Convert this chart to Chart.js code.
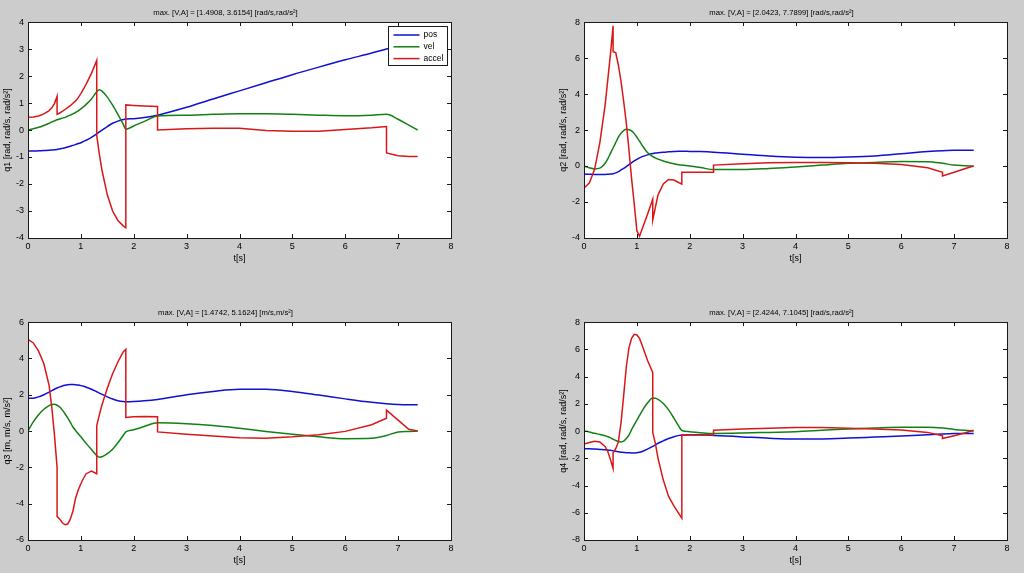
<!DOCTYPE html>
<html>
<head>
<meta charset="utf-8">
<script src="https://cdn.jsdelivr.net/npm/chart.js@4.4.0/dist/chart.umd.min.js"></script>
<style>
  html, body { margin: 0; padding: 0; background: #cccccc; }
  body { width: 1024px; height: 573px; position: relative; overflow: hidden; }
  canvas { position: absolute; }
</style>
</head>
<body>
<canvas id="c1" width="512" height="286" style="left:0;top:0"></canvas>
<canvas id="c2" width="512" height="286" style="left:512px;top:0"></canvas>
<canvas id="c3" width="512" height="287" style="left:0;top:286px"></canvas>
<canvas id="c4" width="512" height="287" style="left:512px;top:286px"></canvas>
<script>
// ======= Data =======
// shared time grid (repeated instants = jumps in acceleration)
const t = [0, 0.1, 0.2, 0.3, 0.4, 0.45, 0.5, 0.55,
  0.55, 0.6, 0.65, 0.7, 0.75, 0.8, 0.85, 0.9, 0.95, 1.0, 1.05, 1.1, 1.2, 1.3,
  1.3, 1.35, 1.4, 1.5, 1.6, 1.7, 1.8, 1.85,
  1.85, 2.0, 2.2, 2.45,
  2.45, 3.0, 3.5, 4.0, 4.5, 5.0, 5.5, 6.0, 6.5, 6.78,
  6.78, 7.0, 7.2, 7.37];

const seriesNames = ['pos', 'vel', 'accel'];
const xTicks = [0, 8, 1];

const q1Pos = [-0.78, -0.78, -0.77, -0.76, -0.75, -0.74, -0.73, -0.72,
  -0.72, -0.70, -0.68, -0.66, -0.63, -0.60, -0.57, -0.54, -0.50, -0.47, -0.42, -0.38, -0.27, -0.14,
  -0.14, -0.07, 0.0, 0.13, 0.25, 0.33, 0.39, 0.41,
  0.41, 0.42, 0.46, 0.55,
  0.55, 0.84, 1.15, 1.45, 1.75, 2.05, 2.33, 2.6, 2.85, 3.0,
  3.0, 3.1, 3.17, 3.2];
const q1Vel = [0, 0.05, 0.1, 0.17, 0.25, 0.3, 0.34, 0.38,
  0.38, 0.41, 0.44, 0.47, 0.51, 0.55, 0.6, 0.65, 0.71, 0.78, 0.86, 0.95, 1.15, 1.42,
  1.42, 1.49, 1.44, 1.22, 0.92, 0.58, 0.22, 0.03,
  0.03, 0.15, 0.32, 0.52,
  0.52, 0.55, 0.58, 0.6, 0.6, 0.58, 0.55, 0.53, 0.55, 0.58,
  0.58, 0.4, 0.18, 0.0];
const q1Acc = [0.47, 0.48, 0.52, 0.6, 0.72, 0.82, 0.98, 1.25,
  0.58, 0.63, 0.69, 0.76, 0.83, 0.9, 0.99, 1.08, 1.2, 1.35, 1.52, 1.7, 2.1, 2.58,
  -0.2, -0.9, -1.5, -2.4, -3.0, -3.35, -3.55, -3.62,
  0.93, 0.91, 0.89, 0.87,
  0.0, 0.05, 0.07, 0.07, -0.02, -0.05, -0.05, 0.02, 0.08, 0.13,
  -0.85, -0.95, -0.98, -0.98];

const q2Pos = [-0.45, -0.46, -0.47, -0.47, -0.47, -0.46, -0.45, -0.43,
  -0.43, -0.38, -0.31, -0.22, -0.13, -0.03, 0.08, 0.18, 0.28, 0.37, 0.45, 0.52, 0.62, 0.69,
  0.69, 0.72, 0.74, 0.77, 0.79, 0.81, 0.82, 0.82,
  0.82, 0.81, 0.8, 0.77,
  0.77, 0.66, 0.56, 0.49, 0.47, 0.5, 0.56, 0.68, 0.8, 0.85,
  0.85, 0.87, 0.88, 0.88];
const q2Vel = [0, -0.1, -0.16, -0.12, 0.15, 0.4, 0.7, 1.0,
  1.0, 1.3, 1.6, 1.82, 1.97, 2.04, 2.02, 1.95, 1.8, 1.6, 1.38, 1.15, 0.75, 0.52,
  0.52, 0.45, 0.38, 0.28, 0.2, 0.13, 0.07, 0.05,
  0.05, 0.0, -0.08, -0.2,
  -0.2, -0.2, -0.14, -0.05, 0.05, 0.15, 0.2, 0.25, 0.24, 0.15,
  0.15, 0.05, 0.02, 0.0];
const q2Acc = [-1.22, -0.95, -0.2, 1.3, 3.4, 4.8, 6.2, 7.79,
  6.35, 6.3, 5.6, 4.7, 3.6, 2.4, 0.9, -0.7, -2.1, -3.6, -3.9, -3.5, -2.7, -1.85,
  -3.0, -2.3, -1.6, -1.0, -0.75, -0.78, -0.93, -1.0,
  -0.35, -0.35, -0.35, -0.35,
  0.05, 0.12, 0.18, 0.2, 0.2, 0.18, 0.15, 0.08, -0.1, -0.35,
  -0.55, -0.35, -0.15, 0.0];

const q3Pos = [1.8, 1.81, 1.88, 2.0, 2.14, 2.22, 2.3, 2.37,
  2.37, 2.43, 2.48, 2.52, 2.55, 2.56, 2.56, 2.55, 2.53, 2.5, 2.46, 2.41, 2.3, 2.16,
  2.16, 2.09, 2.02, 1.88, 1.76, 1.67, 1.62, 1.61,
  1.61, 1.62, 1.66, 1.74,
  1.74, 2.0, 2.18, 2.3, 2.3, 2.18, 1.98, 1.77, 1.58, 1.5,
  1.5, 1.46, 1.45, 1.45];
const q3Vel = [0, 0.5, 0.9, 1.2, 1.4, 1.46, 1.47, 1.42,
  1.42, 1.32, 1.15, 0.95, 0.72, 0.48, 0.22, 0.03, -0.15, -0.32, -0.5, -0.68, -1.02, -1.35,
  -1.35, -1.44, -1.42, -1.25, -1.0, -0.65, -0.25, -0.05,
  -0.05, 0.07, 0.25, 0.45,
  0.45, 0.4, 0.3, 0.15, -0.02, -0.18, -0.32, -0.42, -0.4, -0.25,
  -0.25, -0.05, -0.02, 0.0];
const q3Acc = [5.05, 4.85, 4.4, 3.7, 2.5, 1.3, -0.2, -2.0,
  -4.7, -4.85, -5.05, -5.16, -5.12, -4.85, -4.4, -3.7, -3.25, -2.9, -2.6, -2.35, -2.2, -2.35,
  0.3, 0.9, 1.45, 2.35, 3.15, 3.8, 4.35, 4.5,
  0.75, 0.78, 0.8, 0.78,
  -0.05, -0.18, -0.28, -0.37, -0.4, -0.32, -0.2, -0.02, 0.35, 0.7,
  1.15, 0.6, 0.1, 0.0];

const q4Pos = [-1.3, -1.3, -1.32, -1.35, -1.38, -1.4, -1.42, -1.45,
  -1.45, -1.48, -1.52, -1.55, -1.57, -1.59, -1.6, -1.61, -1.61, -1.6, -1.56, -1.5, -1.33, -1.13,
  -1.13, -1.02, -0.9, -0.72, -0.55, -0.42, -0.32, -0.3,
  -0.3, -0.27, -0.28, -0.32,
  -0.32, -0.43, -0.53, -0.59, -0.58, -0.52, -0.44, -0.36, -0.27, -0.22,
  -0.22, -0.19, -0.18, -0.18];
const q4Vel = [0, -0.07, -0.17, -0.25, -0.35, -0.42, -0.5, -0.6,
  -0.6, -0.7, -0.77, -0.8, -0.75, -0.55, -0.3, 0.1, 0.45, 0.8, 1.15, 1.48, 2.05, 2.42,
  2.42, 2.41, 2.33, 2.02, 1.55, 0.95, 0.3, 0.04,
  0.04, -0.05, -0.12, -0.18,
  -0.18, -0.15, -0.1, -0.05, 0.05, 0.15, 0.22, 0.27, 0.27, 0.22,
  0.22, 0.12, 0.05, 0.0];
const q4Acc = [-0.95, -0.85, -0.75, -0.8, -1.15, -1.5, -2.1, -2.75,
  -1.6, -1.3, -0.8, 0.6, 2.6, 4.7, 6.1, 6.8, 7.1, 7.05, 6.8, 6.3, 5.2, 4.3,
  -0.1, -0.9, -2.0, -3.6, -4.8, -5.5, -6.1, -6.4,
  -0.3, -0.3, -0.3, -0.3,
  0.05, 0.15, 0.2, 0.25, 0.25, 0.2, 0.15, 0.08, -0.1, -0.35,
  -0.55, -0.35, -0.15, 0.05];

// ======= Style =======
const FONT = '"Liberation Sans", Arial, sans-serif';
const COLORS = ['#1010d0', '#138013', '#d81818'];

// ======= Plugins =======
const frame = {
  id: 'frame',
  beforeDraw(chart) {
    const a = chart.chartArea, c = chart.ctx;
    c.save();
    c.fillStyle = '#ffffff';
    c.fillRect(a.left, a.top, a.right - a.left, a.bottom - a.top);
    c.restore();
  },
  afterDraw(chart) {
    const a = chart.chartArea, c = chart.ctx;
    const xs = chart.scales.x, ys = chart.scales.y;
    c.save();
    c.strokeStyle = '#1a1a1a';
    c.lineWidth = 1;
    c.beginPath();
    for (const tk of xs.ticks) {
      const px = Math.round(xs.getPixelForValue(tk.value)) + 0.5;
      c.moveTo(px, a.bottom); c.lineTo(px, a.bottom - 4);
      c.moveTo(px, a.top); c.lineTo(px, a.top + 4);
    }
    for (const tk of ys.ticks) {
      const py = Math.round(ys.getPixelForValue(tk.value)) + 0.5;
      c.moveTo(a.left, py); c.lineTo(a.left + 4, py);
      c.moveTo(a.right, py); c.lineTo(a.right - 4, py);
    }
    c.stroke();
    c.strokeRect(Math.round(a.left) + 0.5, Math.round(a.top) + 0.5,
      Math.round(a.right - a.left), Math.round(a.bottom - a.top));
    c.restore();
  }
};

const boxLegend = {
  id: 'boxLegend',
  afterDraw(chart) {
    const a = chart.chartArea, c = chart.ctx;
    const w = 59, h = 39;
    const x0 = Math.round(a.right - 4 - w) + 0.5, y0 = Math.round(a.top + 4) + 0.5;
    c.save();
    c.fillStyle = '#ffffff';
    c.fillRect(x0, y0, w, h);
    c.strokeStyle = '#1a1a1a';
    c.lineWidth = 1;
    c.strokeRect(x0, y0, w, h);
    c.font = '8.5px ' + FONT;
    c.textBaseline = 'middle';
    c.fillStyle = '#000';
    const items = chart.data.datasets.slice().sort((p, q) => p.legendIndex - q.legendIndex);
    items.forEach((ds, i) => {
      const yy = y0 + 8.5 + i * 11.8;
      c.strokeStyle = ds.borderColor;
      c.lineWidth = 1.5;
      c.beginPath();
      c.moveTo(x0 + 5, yy); c.lineTo(x0 + 31, yy);
      c.stroke();
      c.fillText(ds.label, x0 + 35, yy);
    });
    c.restore();
  }
};

// ======= Chart factory =======
function points(arr) { return t.map((x, i) => ({ x, y: arr[i] })); }
// pos/vel are continuous: drop the repeated instants so they can be drawn smooth
function smoothPoints(arr) { return points(arr).filter((p, i) => i === 0 || t[i] !== t[i - 1]); }

function makePlot(id, opts) {
  const datasets = [opts.pos, opts.vel, opts.acc].map((arr, i) => {
    const smooth = i < 2;
    return {
      label: seriesNames[i],
      legendIndex: i,
      data: smooth ? smoothPoints(arr) : points(arr),
      borderColor: COLORS[i],
      borderWidth: 1.5,
      pointRadius: 0,
      cubicInterpolationMode: smooth ? 'monotone' : 'default',
      tension: 0,
      fill: false,
      order: 3 - i
    };
  });
  return new Chart(document.getElementById(id), {
    type: 'line',
    data: { datasets },
    plugins: opts.legend ? [frame, boxLegend] : [frame],
    options: {
      responsive: false,
      animation: false,
      devicePixelRatio: 1,
      layout: { padding: opts.pad },
      plugins: {
        legend: { display: false },
        tooltip: { enabled: false },
        title: {
          display: true, text: opts.title, color: '#000',
          font: { size: 7.7, family: FONT, weight: 'normal' },
          padding: { top: 8, bottom: 4.8 }
        }
      },
      scales: {
        x: {
          type: 'linear', min: xTicks[0], max: xTicks[1],
          ticks: { stepSize: xTicks[2], padding: 3, color: '#000', font: { size: 9, family: FONT } },
          grid: { display: false, drawTicks: false },
          border: { display: false },
          title: { display: true, text: 't[s]', color: '#000', font: { size: 9, family: FONT }, padding: { top: 0, bottom: 2 } },
          afterFit: s => { s.height = 28; }
        },
        y: {
          type: 'linear', min: opts.yMin, max: opts.yMax,
          ticks: { stepSize: opts.yStep, padding: 4, color: '#000', font: { size: 9, family: FONT } },
          grid: { display: false, drawTicks: false },
          border: { display: false },
          title: { display: true, text: opts.yLabel, color: '#000', font: { size: 9, family: FONT }, padding: { top: 2, bottom: 2 } },
          afterFit: s => { s.width = 28; }
        }
      }
    }
  });
}

makePlot('c1', {
  pos: q1Pos, vel: q1Vel, acc: q1Acc, legend: true,
  title: 'max. [V,A] = [1.4908, 3.6154] [rad/s,rad/s²]',
  yLabel: 'q1 [rad, rad/s, rad/s²]', yMin: -4, yMax: 4, yStep: 1,
  pad: { left: 0, right: 61, top: 0, bottom: 20 }
});
makePlot('c2', {
  pos: q2Pos, vel: q2Vel, acc: q2Acc,
  title: 'max. [V,A] = [2.0423, 7.7899] [rad/s,rad/s²]',
  yLabel: 'q2 [rad, rad/s, rad/s²]', yMin: -4, yMax: 8, yStep: 2,
  pad: { left: 44, right: 17, top: 0, bottom: 20 }
});
makePlot('c3', {
  pos: q3Pos, vel: q3Vel, acc: q3Acc,
  title: 'max. [V,A] = [1.4742, 5.1624] [m/s,m/s²]',
  yLabel: 'q3 [m, m/s, m/s²]', yMin: -6, yMax: 6, yStep: 2,
  pad: { left: 0, right: 61, top: 14, bottom: 5 }
});
makePlot('c4', {
  pos: q4Pos, vel: q4Vel, acc: q4Acc,
  title: 'max. [V,A] = [2.4244, 7.1045] [rad/s,rad/s²]',
  yLabel: 'q4 [rad, rad/s, rad/s²]', yMin: -8, yMax: 8, yStep: 2,
  pad: { left: 44, right: 17, top: 14, bottom: 5 }
});
</script>
</body>
</html>
